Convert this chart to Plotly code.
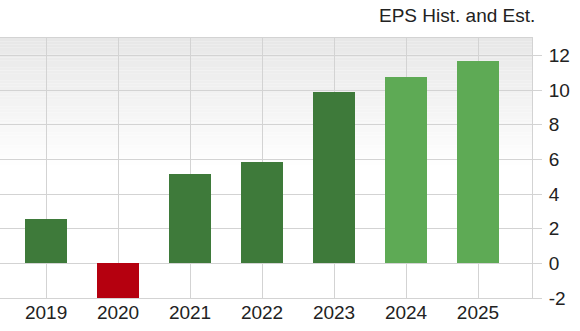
import plotly.graph_objects as go

# ---- data ----
years = ["2019", "2020", "2021", "2022", "2023", "2024", "2025"]
eps = [2.54, -2.0, 5.14, 5.85, 9.9, 10.73, 11.65]
bar_colors = ["#3e7a3a", "#b5000f", "#3e7a3a", "#3e7a3a", "#3e7a3a", "#5eaa55", "#5eaa55"]
ytick_vals = [-2, 0, 2, 4, 6, 8, 10, 12]
ytick_text = ["-2", "0", "2", "4", "6", "8", "10", "12"]
title_text = "EPS Hist. and Est."

FONT = "Liberation Sans, Arial, sans-serif"
FS = 19
TXT = "#222222"
GRID = "#d3d3d3"

fig = go.Figure()
fig.add_trace(go.Bar(
    x=years, y=eps,
    marker=dict(color=bar_colors, line=dict(width=0)),
    width=0.575,
    hoverinfo="x+y",
))

# gradient background (top grey fading to white)
shapes = []
n = 40
y_top, y_bot = 13.0, 5.5
for i in range(n):
    y0 = y_top - (y_top - y_bot) * i / n
    y1 = y_top - (y_top - y_bot) * (i + 1) / n
    t = (i + 0.5) / n
    g = int(round(231 + (255 - 231) * t))
    shapes.append(dict(type="rect", xref="paper", yref="y", x0=0, x1=1,
                       y0=y1, y1=y0, fillcolor=f"rgb({g},{g},{g})",
                       line=dict(width=0), layer="below"))

fig.update_layout(
    width=580, height=331,
    margin=dict(l=0, r=48, t=38, b=33),
    paper_bgcolor="white",
    plot_bgcolor="white",
    showlegend=False,
    bargap=0,
    shapes=shapes,
    font=dict(family=FONT, size=FS, color=TXT),
    annotations=[dict(text=title_text, xref="paper", yref="paper",
                      x=1, y=1, xanchor="right", yanchor="middle",
                      xshift=5, yshift=23, showarrow=False,
                      font=dict(family=FONT, size=FS, color=TXT))],
)
fig.update_xaxes(
    type="category",
    range=[-0.64, 6.75],
    showgrid=True, gridcolor=GRID, gridwidth=1,
    showline=True, linecolor=GRID, linewidth=1, mirror=True,
    ticks="", tickfont=dict(family=FONT, size=FS, color=TXT),
    ticklabelstandoff=-3,
    zeroline=False,
)
fig.update_yaxes(
    side="right",
    range=[-2, 13],
    tickvals=ytick_vals,
    ticktext=ytick_text,
    showgrid=True, gridcolor=GRID, gridwidth=1,
    showline=True, linecolor=GRID, linewidth=1,
    ticks="outside", ticklen=9, tickcolor=GRID,
    ticklabelstandoff=3,
    tickfont=dict(family=FONT, size=FS, color=TXT),
    zeroline=False,
)

fig.write_html("out.html")
